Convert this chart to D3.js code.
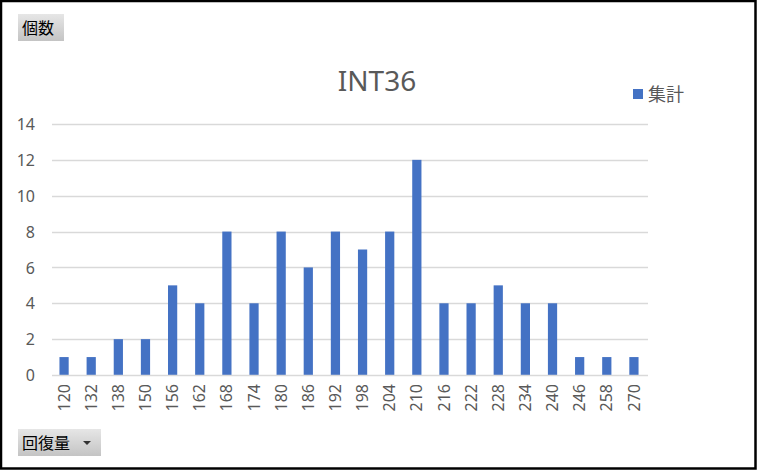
<!DOCTYPE html>
<html><head><meta charset="utf-8">
<script src="https://cdn.jsdelivr.net/npm/d3@7"></script>
<style>
html,body{margin:0;padding:0;background:#fff;}
svg{display:block;}
</style></head>
<body>
<svg id="c" width="758" height="471"></svg>
<script>
const categories = ["120","132","138","150","156","162","168","174","180","186","192","198","204","210","216","222","228","234","240","246","258","270"];
const values = [1,1,2,2,5,4,8,4,8,6,8,7,8,12,4,4,5,4,4,1,1,1];
const yTicks = [0,2,4,6,8,10,12,14];
const title = "INT36";
const seriesName = "集計";
const topButton = "個数";
const bottomButton = "回復量";

const svg = d3.select("#c");
const W = 758, H = 471;
const font = "'Segoe UI','Noto Sans','Noto Sans CJK JP',sans-serif";
const cjk = "'Noto Sans CJK JP',sans-serif";
const grey = "#595959";

svg.append("rect").attr("x",0).attr("y",0).attr("width",W).attr("height",H).attr("fill","#fff");
svg.append("rect").attr("x",1).attr("y",1).attr("width",W-3.5).attr("height",H-3.5)
  .attr("fill","none").attr("stroke","#000").attr("stroke-width",2.5);

const x = d3.scaleBand().domain(categories).range([50.5, 647.5]).paddingInner(0.66).paddingOuter(0.33);
const y = d3.scaleLinear().domain([0,14]).range([375,124]);

const grid = svg.append("g");
grid.selectAll("line").data(yTicks.filter(d=>d>0)).join("line")
  .attr("x1",52).attr("x2",648)
  .attr("y1",d=>Math.round(y(d))+0.5).attr("y2",d=>Math.round(y(d))+0.5)
  .attr("stroke","#d9d9d9").attr("stroke-width",1.3);

svg.append("g").selectAll("rect").data(values).join("rect")
  .attr("x",(d,i)=>x(categories[i]))
  .attr("width",x.bandwidth())
  .attr("y",d=>y(d))
  .attr("height",d=>y(0)-y(d))
  .attr("fill","#4472C4");

svg.append("line").attr("x1",52).attr("x2",648).attr("y1",375.5).attr("y2",375.5)
  .attr("stroke","#d9d9d9").attr("stroke-width",1.3);

const yAxis = d3.axisLeft(y).tickValues(yTicks).tickSize(0).tickPadding(0);
const yg = svg.append("g").attr("transform","translate(35,0)").call(yAxis);
yg.select(".domain").remove();
yg.selectAll("text").attr("fill",grey).attr("font-size",16).attr("font-family",font).attr("dy","0.35em");

const xAxis = d3.axisBottom(x).tickSize(0).tickPadding(0);
const xg = svg.append("g").attr("transform","translate(0,384)").call(xAxis);
xg.select(".domain").remove();
xg.selectAll("text").attr("fill",grey).attr("font-size",16).attr("font-family",font)
  .attr("transform","rotate(-90)").attr("text-anchor","end").attr("x",0).attr("y",0).attr("dy","0.35em");

svg.append("text").attr("x",377).attr("y",91).attr("text-anchor","middle")
  .attr("font-size",28).attr("font-family",font).attr("fill",grey).text(title);

svg.append("rect").attr("x",633).attr("y",89).attr("width",10).attr("height",10).attr("fill","#4472C4");
svg.append("text").attr("x",648).attr("y",100.5).attr("font-size",18).attr("font-family",cjk).attr("fill",grey).text(seriesName);

const defs = svg.append("defs");
const lg = defs.append("linearGradient").attr("id","btn").attr("x1",0).attr("y1",0).attr("x2",0).attr("y2",1);
lg.append("stop").attr("offset","0%").attr("stop-color","#e6e6e6");
lg.append("stop").attr("offset","100%").attr("stop-color","#c4c4c4");

svg.append("rect").attr("x",18).attr("y",14).attr("width",46).attr("height",27).attr("fill","url(#btn)");
svg.append("text").attr("x",22).attr("y",34).attr("font-size",16).attr("font-family",cjk).attr("fill","#000").text(topButton);

svg.append("rect").attr("x",18).attr("y",429).attr("width",83).attr("height",27).attr("fill","url(#btn)");
svg.append("text").attr("x",22).attr("y",449).attr("font-size",16).attr("font-family",cjk).attr("fill","#000").text(bottomButton);
svg.append("path").attr("d","M83,441 L91,441 L87,445 Z").attr("fill","#333");
</script>
</body></html>
